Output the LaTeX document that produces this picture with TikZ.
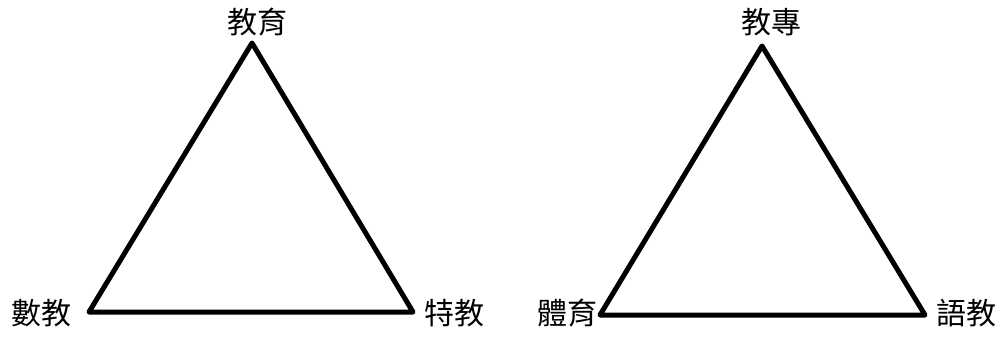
\documentclass[tikz,border=0pt]{standalone}
\usepackage{fontspec}
\newfontfamily\cjk{Noto Sans CJK TC}
\begin{document}
\begin{tikzpicture}[x=1pt,y=-1pt,
  lbl/.style={font=\cjk\fontsize{30}{32}\selectfont, inner sep=0pt, anchor=center},
  tri/.style={line width=5pt, line join=round, line cap=round}]
\useasboundingbox (0,0) rectangle (1005,337);
% left triangle
\coordinate (A1) at (252,43);
\coordinate (B1) at (89,312);
\coordinate (C1) at (413,312);
\draw[tri] (A1) -- (B1) -- (C1) -- cycle;
\node[lbl] (tA1) at (257,22) {教育};
\node[lbl] (tB1) at (42,313) {數教};
\node[lbl] (tC1) at (454,313) {特教};
% right triangle
\coordinate (A2) at (762,46);
\coordinate (B2) at (600,315);
\coordinate (C2) at (925,315);
\draw[tri] (A2) -- (B2) -- (C2) -- cycle;
\node[lbl] (tA2) at (771,22) {教專};
\node[lbl] (tB2) at (567,313) {體育};
\node[lbl] (tC2) at (966,313) {語教};
\end{tikzpicture}
\end{document}
